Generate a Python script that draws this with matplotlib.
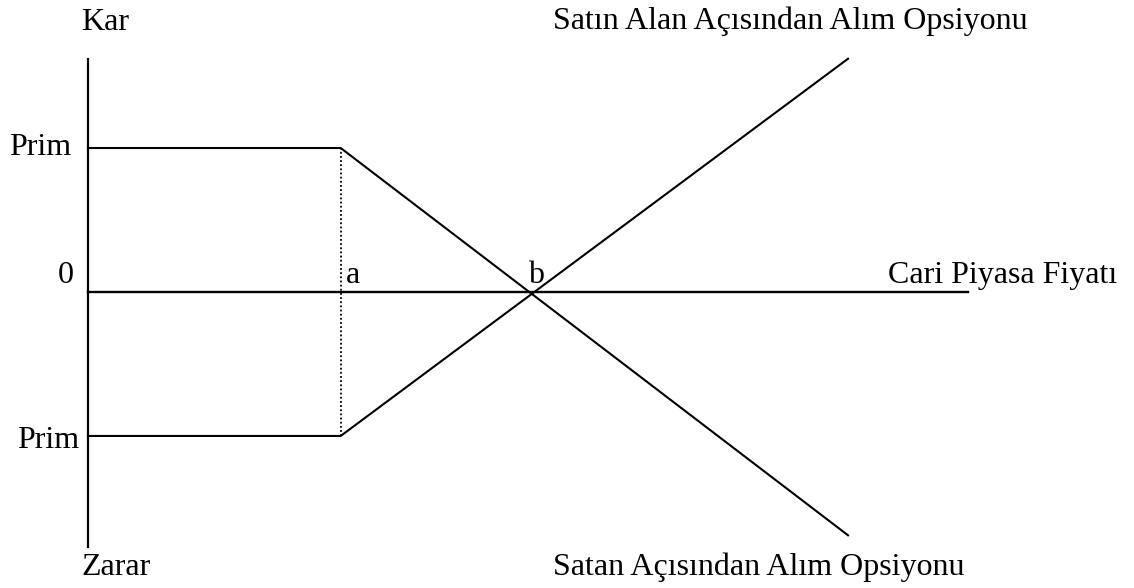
import matplotlib.pyplot as plt

# Payoff diagram values (price units on x, premium units on y)
price = [0.0, 1.33, 4.0]            # 0, strike (a), right end
buyer_profit = [-1.0, -1.0, 1.62]   # Satın alan
seller_profit = [1.0, 1.0, -1.69]   # Satan
strike = 1.33
breakeven = 2.33
premium = 1.0
x_axis_end = 4.63
y_axis_top = 1.62
y_axis_bottom = -1.77

plt.rcParams['font.family'] = ['Liberation Serif', 'DejaVu Serif']
plt.rcParams['font.size'] = 23

fig = plt.figure(figsize=(11.34, 5.88), dpi=100)
ax = fig.add_axes([0, 0, 1, 1])
ax.set_xlim(-0.463, 5.505)
ax.set_ylim(-2.056, 2.028)
ax.axis('off')

# axes
ax.plot([0, 0], [y_axis_bottom, y_axis_top], color='black', lw=1.6)
ax.plot([0, x_axis_end], [0, 0], color='black', lw=1.7)

# payoff lines
ax.plot(price, buyer_profit, color='black', lw=1.5)
ax.plot(price, seller_profit, color='black', lw=1.5)

# dotted guide at strike
ax.plot([strike, strike], [-premium, premium], color='black', lw=1.3, ls=(0, (1, 1.3)))

# labels
ax.text(-0.037, 1.819, 'Kar', va='baseline', ha='left')
ax.text(-0.032, -1.965, 'Zarar', va='baseline', ha='left')
ax.text(-0.416, 0.951, 'Prim', va='baseline', ha='left')
ax.text(-0.374, -1.083, 'Prim', va='baseline', ha='left')
ax.text(-0.158, 0.0625, '0', va='baseline', ha='left')
ax.text(1.358, 0.0625, 'a', va='baseline', ha='left')
ax.text(breakeven - 0.012, 0.0625, 'b', va='baseline', ha='left')
ax.text(4.21, 0.0625, 'Cari Piyasa Fiyatı', va='baseline', ha='left')
ax.text(2.447, 1.826, 'Satın Alan Açısından Alım Opsiyonu', va='baseline', ha='left')
ax.text(2.447, -1.965, 'Satan Açısından Alım Opsiyonu', va='baseline', ha='left')

fig.savefig('out.png', dpi=100, facecolor='white')
